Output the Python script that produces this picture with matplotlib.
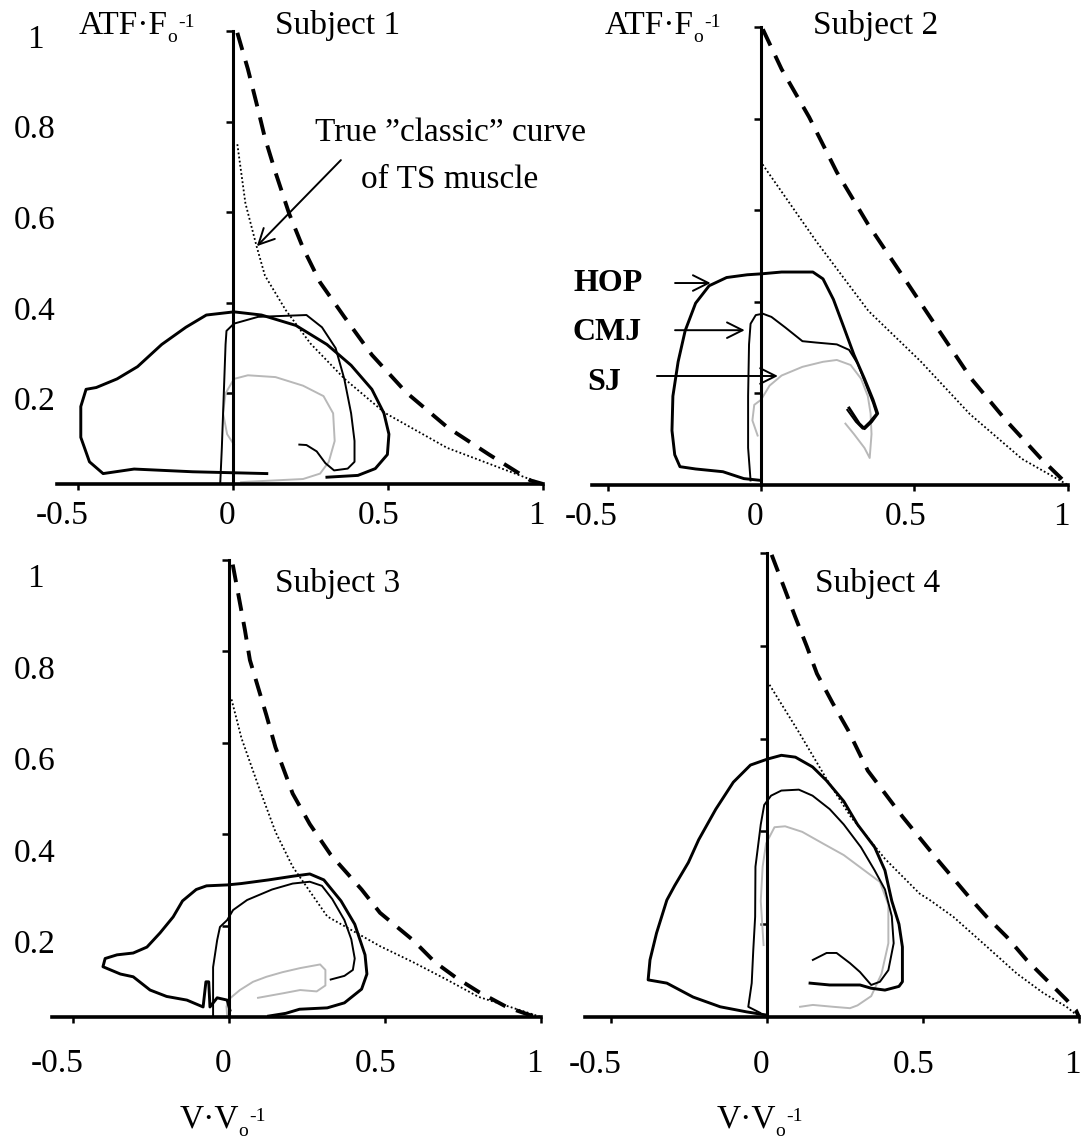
import matplotlib.pyplot as plt
import numpy as np

plt.rcParams['font.family'] = ['Liberation Serif', 'DejaVu Serif']

# (V/Vo, ATF/Fo) pairs
# dashed = normalised Hill curve, dotted = true "classic" curve of TS muscle
s1_hill = [(0.014, 0.996), (0.048, 0.916), (0.076, 0.84), (0.103, 0.764), (0.137, 0.688),
           (0.181, 0.597), (0.226, 0.521), (0.281, 0.445), (0.359, 0.369), (0.448, 0.285),
           (0.559, 0.202), (0.692, 0.125), (0.826, 0.065), (0.959, 0.008), (1.0, 0.0)]
s1_classic = [(0.014, 0.75), (0.04, 0.62), (0.076, 0.525), (0.103, 0.46), (0.17, 0.384),
              (0.25, 0.31), (0.36, 0.232), (0.49, 0.157), (0.69, 0.08), (0.96, 0.01), (1.0, 0.0)]
s1_hop = [(0.109, 0.023), (-0.13, 0.027), (-0.319, 0.033), (-0.419, 0.023), (-0.463, 0.049),
          (-0.491, 0.103), (-0.491, 0.171), (-0.474, 0.209), (-0.441, 0.213), (-0.374, 0.232),
          (-0.308, 0.259), (-0.23, 0.308), (-0.152, 0.346), (-0.086, 0.373), (0.003, 0.38),
          (0.092, 0.373), (0.203, 0.35), (0.303, 0.308), (0.381, 0.262), (0.448, 0.209),
          (0.487, 0.156), (0.503, 0.11), (0.498, 0.065), (0.459, 0.034), (0.403, 0.019),
          (0.303, 0.015)]
s1_cmj = [(-0.041, 0.004), (-0.036, 0.08), (-0.03, 0.194), (-0.024, 0.308), (-0.021, 0.338),
          (0.003, 0.354), (0.081, 0.369), (0.237, 0.373), (0.287, 0.346), (0.331, 0.3),
          (0.359, 0.232), (0.381, 0.156), (0.392, 0.095), (0.392, 0.049), (0.37, 0.034),
          (0.326, 0.03), (0.298, 0.046), (0.27, 0.072), (0.237, 0.086), (0.214, 0.087)]
s1_sj = [(0.003, 0.087), (-0.019, 0.11), (-0.032, 0.156), (-0.024, 0.2), (0.003, 0.232),
         (0.048, 0.24), (0.137, 0.236), (0.226, 0.217), (0.292, 0.194), (0.323, 0.156),
         (0.328, 0.095), (0.309, 0.049), (0.281, 0.023), (0.226, 0.011), (0.137, 0.008),
         (0.048, 0.005), (0.026, 0.004)]

s2_hill = [(0.006, 0.995), (0.067, 0.908), (0.157, 0.803), (0.247, 0.683), (0.348, 0.57),
           (0.461, 0.457), (0.573, 0.344), (0.685, 0.232), (0.798, 0.141), (0.91, 0.059), (1.0, 0.0)]
s2_classic = [(0.005, 0.70), (0.18, 0.532), (0.35, 0.38), (0.52, 0.27), (0.68, 0.155),
              (0.85, 0.057), (1.0, 0.0)]
s2_hop = [(0.0, 0.01), (-0.056, 0.014), (-0.124, 0.029), (-0.213, 0.035), (-0.264, 0.04),
          (-0.281, 0.066), (-0.29, 0.119), (-0.287, 0.194), (-0.27, 0.269), (-0.247, 0.337),
          (-0.213, 0.397), (-0.169, 0.435), (-0.112, 0.453), (-0.045, 0.459), (0.0, 0.461),
          (0.067, 0.465), (0.169, 0.465), (0.202, 0.45), (0.236, 0.405), (0.27, 0.344),
          (0.303, 0.284), (0.337, 0.232), (0.365, 0.186), (0.38, 0.156), (0.36, 0.138),
          (0.337, 0.123), (0.32, 0.134), (0.287, 0.168)]
s2_cmj = [(-0.034, 0.01), (-0.042, 0.081), (-0.042, 0.194), (-0.039, 0.307), (-0.034, 0.352),
          (-0.017, 0.371), (0.006, 0.374), (0.034, 0.367), (0.079, 0.344), (0.135, 0.314),
          (0.18, 0.311), (0.247, 0.307), (0.287, 0.295), (0.315, 0.265), (0.343, 0.217),
          (0.365, 0.179), (0.376, 0.156), (0.354, 0.138), (0.331, 0.123), (0.309, 0.138),
          (0.281, 0.164)]
s2_sj = [(-0.011, 0.108), (-0.028, 0.141), (-0.022, 0.175), (0.0, 0.186), (0.028, 0.217),
         (0.067, 0.239), (0.135, 0.258), (0.202, 0.269), (0.247, 0.273), (0.292, 0.262),
         (0.326, 0.232), (0.348, 0.194), (0.357, 0.156), (0.36, 0.111), (0.354, 0.059),
         (0.337, 0.081), (0.303, 0.111), (0.275, 0.134)]

s3_hill = [(0.012, 0.99), (0.029, 0.928), (0.051, 0.847), (0.067, 0.781), (0.089, 0.731),
           (0.12, 0.66), (0.149, 0.59), (0.204, 0.489), (0.259, 0.422), (0.326, 0.355),
           (0.425, 0.279), (0.484, 0.228), (0.59, 0.168), (0.66, 0.12), (0.73, 0.085),
           (0.80, 0.055), (0.89, 0.022), (0.965, 0.004), (1.0, 0.0)]
s3_classic = [(0.008, 0.695), (0.025, 0.65), (0.04, 0.61), (0.094, 0.506), (0.149, 0.405),
              (0.204, 0.329), (0.315, 0.22), (0.484, 0.155), (0.59, 0.12), (0.70, 0.081),
              (0.80, 0.044), (0.91, 0.02), (1.0, 0.0)]
s3_hop = [(0.127, 0.002), (0.182, 0.008), (0.226, 0.017), (0.315, 0.02), (0.37, 0.031),
          (0.425, 0.061), (0.442, 0.094), (0.436, 0.136), (0.403, 0.203), (0.359, 0.254),
          (0.304, 0.3), (0.259, 0.313), (0.204, 0.308), (0.127, 0.3), (0.039, 0.292),
          (-0.006, 0.289), (-0.072, 0.287), (-0.105, 0.279), (-0.149, 0.254), (-0.179, 0.219),
          (-0.221, 0.184), (-0.263, 0.153), (-0.307, 0.14), (-0.359, 0.136), (-0.397, 0.128),
          (-0.404, 0.11), (-0.348, 0.094), (-0.307, 0.088), (-0.253, 0.059), (-0.2, 0.045),
          (-0.135, 0.037), (-0.083, 0.022), (-0.074, 0.077), (-0.065, 0.077), (-0.061, 0.022),
          (-0.038, 0.042), (-0.006, 0.037), (0.003, 0.015)]
s3_cmj = [(-0.051, 0.002), (-0.051, 0.109), (-0.038, 0.168), (-0.029, 0.197), (-0.006, 0.212),
          (0.013, 0.234), (0.058, 0.256), (0.138, 0.279), (0.204, 0.292), (0.259, 0.296),
          (0.298, 0.287), (0.331, 0.258), (0.37, 0.212), (0.392, 0.17), (0.403, 0.128),
          (0.397, 0.103), (0.37, 0.09), (0.326, 0.082)]
s3_sj = [(-0.006, 0.002), (-0.008, 0.023), (0.0, 0.039), (0.035, 0.059), (0.077, 0.077),
         (0.12, 0.088), (0.171, 0.098), (0.228, 0.107), (0.292, 0.115), (0.309, 0.103),
         (0.309, 0.069), (0.281, 0.056), (0.228, 0.059), (0.174, 0.052), (0.093, 0.042)]

s4_hill = [(0.015, 0.996), (0.058, 0.92), (0.09, 0.863), (0.128, 0.798), (0.16, 0.74),
           (0.21, 0.677), (0.26, 0.618), (0.323, 0.531), (0.434, 0.432), (0.544, 0.341),
           (0.656, 0.252), (0.704, 0.216), (0.768, 0.173), (0.832, 0.123), (0.896, 0.08),
           (0.96, 0.037), (0.99, 0.015), (1.0, 0.0)]
s4_classic = [(0.008, 0.716), (0.102, 0.614), (0.19, 0.514), (0.268, 0.432), (0.378, 0.341),
              (0.489, 0.266), (0.522, 0.252), (0.597, 0.216), (0.704, 0.152), (0.8, 0.094),
              (0.885, 0.052), (0.96, 0.022), (1.0, 0.0)]
s4_hop = [(0.0, 0.004), (-0.065, 0.011), (-0.15, 0.022), (-0.237, 0.043), (-0.321, 0.073),
          (-0.381, 0.08), (-0.375, 0.123), (-0.354, 0.181), (-0.321, 0.252), (-0.296, 0.283),
          (-0.252, 0.333), (-0.219, 0.382), (-0.164, 0.448), (-0.108, 0.506), (-0.053, 0.543),
          (0.002, 0.556), (0.046, 0.564), (0.091, 0.56), (0.146, 0.539), (0.19, 0.51),
          (0.246, 0.465), (0.29, 0.415), (0.345, 0.366), (0.378, 0.316), (0.4, 0.25),
          (0.423, 0.2), (0.434, 0.151), (0.434, 0.076), (0.423, 0.066), (0.378, 0.058),
          (0.334, 0.062), (0.298, 0.069), (0.201, 0.069), (0.138, 0.073)]
s4_cmj = [(-0.022, 0.009), (-0.06, 0.022), (-0.049, 0.073), (-0.044, 0.144), (-0.038, 0.216),
          (-0.037, 0.324), (-0.02, 0.415), (-0.009, 0.457), (0.013, 0.477), (0.046, 0.488),
          (0.102, 0.49), (0.146, 0.477), (0.201, 0.448), (0.246, 0.415), (0.301, 0.366),
          (0.345, 0.316), (0.378, 0.275), (0.4, 0.217), (0.406, 0.159), (0.389, 0.101),
          (0.362, 0.076), (0.334, 0.069), (0.298, 0.097), (0.266, 0.116), (0.223, 0.138),
          (0.191, 0.138), (0.147, 0.123)]
s4_sj = [(-0.011, 0.155), (-0.02, 0.25), (-0.014, 0.324), (-0.003, 0.374), (0.024, 0.409),
         (0.058, 0.411), (0.113, 0.399), (0.179, 0.374), (0.246, 0.349), (0.312, 0.316),
         (0.362, 0.291), (0.389, 0.242), (0.389, 0.159), (0.367, 0.093), (0.334, 0.045),
         (0.29, 0.025), (0.266, 0.019), (0.212, 0.022), (0.147, 0.026), (0.106, 0.022)]

subjects = ['Subject 1', 'Subject 2', 'Subject 3', 'Subject 4']
x_ticks = [-0.5, 0, 0.5, 1]
x_labels = ['-0.5', '0', '0.5', '1']
y_ticks = [0.2, 0.4, 0.6, 0.8, 1]
y_labels = ['0.2', '0.4', '0.6', '0.8', '1']

W, H = 1081, 1142
fig = plt.figure(figsize=(W / 100, H / 100), dpi=100)
fs = 24
fs_small = 14

# pixel frame of every panel: x of V=0, px per unit, y of ATF=0, px per unit
frames = [(233, 310, 484, 453), (761, 307, 485, 458), (229, 312, 1017, 457), (767, 312, 1017, 464)]
axis_start = [-0.567, -0.55, -0.567, -0.583]
data = [(s1_hill, s1_classic, s1_hop, s1_cmj, s1_sj),
        (s2_hill, s2_classic, s2_hop, s2_cmj, s2_sj),
        (s3_hill, s3_classic, s3_hop, s3_cmj, s3_sj),
        (s4_hill, s4_classic, s4_hop, s4_cmj, s4_sj)]


def px(ax_i, x, y):
    # pixel position -> data coords of panel ax_i
    x0, sx, y0, sy = frames[ax_i]
    return (x - x0) / sx, (y0 - y) / sy


axes = []
for i, (x0, sx, y0, sy) in enumerate(frames):
    a, b, c, d = -0.75, 1.1, -0.3, 1.1
    ax = fig.add_axes([(x0 + a * sx) / W, 1 - (y0 - c * sy) / H, (b - a) * sx / W, (d - c) * sy / H])
    ax.set_xlim(a, b)
    ax.set_ylim(c, d)
    ax.patch.set_visible(False)
    ax.spines['top'].set_visible(False)
    ax.spines['right'].set_visible(False)
    ax.spines['left'].set_position(('data', 0))
    ax.spines['bottom'].set_position(('data', 0))
    ax.spines['left'].set_bounds(0, 1)
    ax.spines['bottom'].set_bounds(axis_start[i], 1)
    ax.spines['left'].set_linewidth(2.2)
    ax.spines['bottom'].set_linewidth(2.6)
    ax.set_xticks(x_ticks)
    ax.set_yticks(y_ticks)
    ax.set_xticklabels([])
    ax.set_yticklabels([])
    ax.tick_params(axis='x', direction='out', length=4, width=1.8)
    ax.tick_params(axis='y', direction='out', length=5, width=1.8)

    hill, classic, hop, cmj, sj = data[i]
    styles = [(sj, dict(color='#b8b8b8', lw=1.4)),
              (cmj, dict(color='k', lw=1.4)),
              (hop, dict(color='k', lw=2.1)),
              (classic, dict(color='k', lw=1.3, ls=(0, (1, 1.3)))),
              (hill, dict(color='k', lw=2.8, ls=(0, (4.6, 2.9))))]
    for pts, kw in styles:
        v, f = np.array(pts).T
        ax.plot(v, f, solid_joinstyle='round', clip_on=False, **kw)

    # tick labels
    off = 0.088 if i < 2 else 0.12
    for t, lab, dx in zip(x_ticks, x_labels, [-16, -6, -9, -7]):
        ax.text(t + dx / sx, -off, lab, ha='center', va='baseline', fontsize=fs)
    if i % 2 == 0:
        yoff = 0.037 if i == 0 else 0.06
        for t, lab in zip(y_ticks, y_labels):
            ax.text((35 - x0) / sx, t - yoff, lab, ha='center', va='baseline', fontsize=fs)
    axes.append(ax)

# panel titles
title_pos = [(0.337, 0.993), (0.375, 0.984), (0.348, 0.93), (0.353, 0.916)]
for ax, name, (tx, ty) in zip(axes, subjects, title_pos):
    ax.text(tx, ty, name, ha='center', va='baseline', fontsize=fs)


def unit_label(i, main, left, base):
    # main text, then subscript "o" and superscript "-1" (pixel positions)
    ax = axes[i]
    w = {'ATF·F': 88, 'V·V': 58}[main]
    ax.text(*px(i, left, base), main, ha='left', va='baseline', fontsize=fs)
    ax.text(*px(i, left + w, base + 8), 'o', ha='left', va='baseline', fontsize=fs_small)
    ax.text(*px(i, left + w + 11, base - 7), '-1', ha='left', va='baseline', fontsize=fs_small)


unit_label(0, 'ATF·F', 79, 34)
unit_label(1, 'ATF·F', 605, 34)
unit_label(2, 'V·V', 180, 1128)
unit_label(3, 'V·V', 717, 1128)

# annotation in subject 1
ax = axes[0]
ax.text(0.703, 0.757, 'True \u201dclassic\u201d curve', ha='center', va='baseline', fontsize=fs)
ax.text(0.70, 0.653, 'of TS muscle', ha='center', va='baseline', fontsize=fs)
ax.annotate('', xy=(0.077, 0.525), xytext=(0.348, 0.715),
            arrowprops=dict(arrowstyle='->', lw=1.4, color='k', mutation_scale=28, shrinkA=0, shrinkB=0))

# jump labels in subject 2
ax = axes[1]
jump_labels = ['HOP', 'CMJ', 'SJ']
label_pos = [(-0.497, 0.441), (-0.5, 0.332), (-0.511, 0.223)]
arrow_pos = [((-0.28, 0.441), (-0.164, 0.441)),
             ((-0.28, 0.338), (-0.053, 0.338)),
             ((-0.339, 0.238), (0.055, 0.238))]
for lab, (lx, ly), (p0, p1) in zip(jump_labels, label_pos, arrow_pos):
    ax.text(lx, ly, lab, ha='center', va='center', fontsize=23, fontweight='bold')
    ax.annotate('', xy=p1, xytext=p0,
                arrowprops=dict(arrowstyle='->', lw=1.4, color='k', mutation_scale=28, shrinkA=0, shrinkB=0))

fig.savefig('out.png', dpi=100)
